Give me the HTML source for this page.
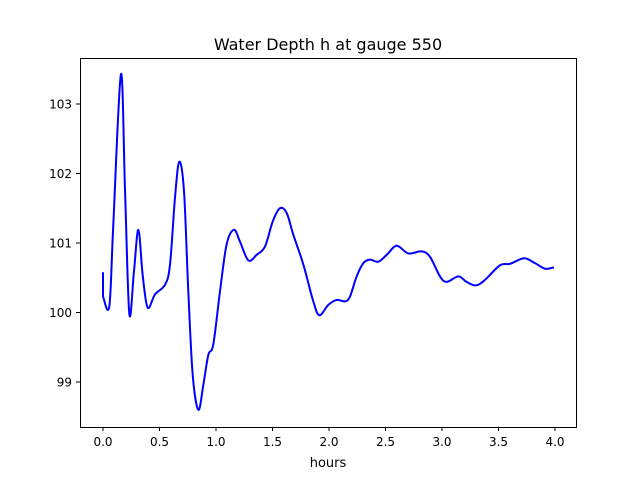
<!DOCTYPE html>
<html><head><meta charset="utf-8"><style>
body{margin:0;background:#fff;font-family:"Liberation Sans","DejaVu Sans",sans-serif}
</style></head><body>
<svg id="chart" width="640" height="480" xmlns="http://www.w3.org/2000/svg" font-family="DejaVu Sans, Liberation Sans, sans-serif">
<rect width="640" height="480" fill="#fff"/>
<text x="328" y="50" font-size="16" text-anchor="middle">Water Depth h at gauge 550</text>
<text x="328" y="467" font-size="13" text-anchor="middle">hours</text>
<g id="ticks"></g>
<path id="line" fill="none" stroke="#0000ff" stroke-width="2" stroke-linejoin="round"/>
<rect x="80.5" y="58.5" width="496" height="369" fill="none" stroke="#000" stroke-width="1"/>
</svg>
<script>
const hours=[0,0,0.056,0.091,0.159,0.195,0.233,0.274,0.313,0.351,0.395,0.46,0.549,0.593,0.637,0.675,0.717,0.755,0.794,0.844,0.888,0.932,0.976,1.035,1.094,1.159,1.212,1.286,1.36,1.434,1.502,1.566,1.626,1.684,1.773,1.861,1.915,1.994,2.068,2.142,2.186,2.245,2.304,2.363,2.437,2.511,2.599,2.702,2.82,2.894,2.982,3.041,3.145,3.218,3.301,3.381,3.513,3.602,3.726,3.823,3.912,3.991];
const depth=[100.58,100.23,100.09,101.26,103.43,101.75,99.98,100.59,101.19,100.54,100.07,100.26,100.40,100.69,101.65,102.17,101.74,100.30,99.10,98.60,98.96,99.39,99.54,100.30,100.98,101.19,101.02,100.75,100.83,100.95,101.31,101.50,101.43,101.12,100.69,100.16,99.96,100.11,100.18,100.16,100.23,100.52,100.71,100.76,100.73,100.83,100.96,100.85,100.88,100.80,100.52,100.44,100.52,100.44,100.39,100.47,100.68,100.70,100.78,100.71,100.63,100.65];
const xTicks=[0,0.5,1,1.5,2,2.5,3,3.5,4];
const yTicks=[99,100,101,102,103];
const X=t=>103+t*113;
const Y=v=>312.5-(v-100)*69.5;
const NS='http://www.w3.org/2000/svg';
const g=document.getElementById('ticks');
function mk(tag,attrs){const e=document.createElementNS(NS,tag);for(const k in attrs)e.setAttribute(k,attrs[k]);g.appendChild(e);return e;}
xTicks.forEach(t=>{
 const l=mk('line',{x1:X(t),x2:X(t),y1:427,y2:431,stroke:'#000'});
 
 
 const s=mk('text',{x:X(t),y:446,'font-size':12,'text-anchor':'middle'});
 
 
 s.textContent=t.toFixed(1);
});
yTicks.forEach(v=>{
 const l=mk('line',{x1:76,x2:80,y1:Y(v),y2:Y(v),stroke:'#000'});
 
 
 const s=mk('text',{x:72,y:Y(v)+4.5,'font-size':12,'text-anchor':'end'});
 
 
 s.textContent=v;
});
const P=hours.map((t,i)=>[X(t),Y(depth[i])]);
let d='M'+P[0][0]+','+P[0][1]+' L'+P[1][0]+','+P[1][1];
for(let i=1;i<P.length-1;i++){
 const p0=P[Math.max(i-1,1)],p1=P[i],p2=P[i+1],p3=P[Math.min(i+2,P.length-1)];
 const c1=[p1[0]+(p2[0]-p0[0])/6,p1[1]+(p2[1]-p0[1])/6];
 const c2=[p2[0]-(p3[0]-p1[0])/6,p2[1]-(p3[1]-p1[1])/6];
 d+=' C'+c1+' '+c2+' '+p2;
}
document.getElementById('line').setAttribute('d',d);
</script>
</body></html>
